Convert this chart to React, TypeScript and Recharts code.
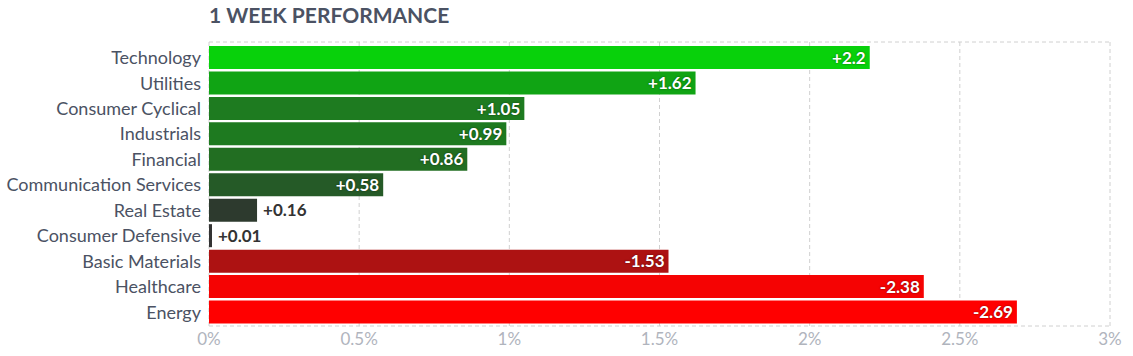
import React from "react";
import { BarChart, Bar, XAxis, YAxis, CartesianGrid, Cell, LabelList, Customized } from "recharts";

const sectors = [
  "Technology",
  "Utilities",
  "Consumer Cyclical",
  "Industrials",
  "Financial",
  "Communication Services",
  "Real Estate",
  "Consumer Defensive",
  "Basic Materials",
  "Healthcare",
  "Energy",
];
const changes = [2.2, 1.62, 1.05, 0.99, 0.86, 0.58, 0.16, 0.01, -1.53, -2.38, -2.69];
const colors = [
  "#08d10b",
  "#10a414",
  "#1e7b20",
  "#1e7a20",
  "#226e22",
  "#255a27",
  "#2d3a2e",
  "#333333",
  "#ad1212",
  "#f50303",
  "#ff0000",
];
const xTicks = [0, 0.5, 1, 1.5, 2, 2.5, 3];

const data = sectors.map((name, i) => ({
  name,
  change: changes[i],
  abs: Math.abs(changes[i]),
}));

const FONT = "Lato, 'Noto Sans', sans-serif";

const fmt = (v: number) => (v > 0 ? `+${v}` : `${v}`);

const ValueLabel = (props: any) => {
  const { x, y, width, height, index } = props;
  const v = changes[index];
  const text = fmt(v);
  const cy = y + height / 2;
  if (width > 60) {
    return (
      <text
        x={x + width - 4}
        y={cy}
        dy="0.36em"
        textAnchor="end"
        fill="#ffffff"
        fontFamily={FONT}
        fontSize={17}
        fontWeight="bold"
        style={{ textShadow: "0 0 2px rgba(0,0,0,0.55)" }}
      >
        {text}
      </text>
    );
  }
  return (
    <text
      x={x + width + 6}
      y={cy}
      dy="0.36em"
      textAnchor="start"
      fill="#333333"
      fontFamily={FONT}
      fontSize={17}
      fontWeight="bold"
    >
      {text}
    </text>
  );
};

const Title = () => (
  <text x={209} y={23} fill="#4b5263" fontFamily={FONT} fontSize={21} fontWeight="bold">
    1 WEEK PERFORMANCE
  </text>
);

export default function App() {
  return (
    <div style={{ position: "absolute", left: 0, top: 0, width: 1133, height: 356, background: "#fff" }}>
      <BarChart
        width={1133}
        height={356}
        data={data}
        layout="vertical"
        margin={{ top: 42, right: 23, bottom: 0, left: 0 }}
        barSize={23}
      >
        <CartesianGrid
          stroke="#d0d0d0"
          strokeDasharray="4 3"
          horizontalCoordinatesGenerator={({ offset }: any) => [offset.top, offset.top + offset.height]}
        />
        <XAxis
          type="number"
          domain={[0, 3]}
          ticks={xTicks}
          height={30}
          tickFormatter={(v: number) => `${v}%`}
          axisLine={false}
          tickLine={false}
          tickSize={0}
          tickMargin={7}
          tick={{ fill: "#b0b4bd", fontSize: 17, fontFamily: FONT }}
          interval={0}
        />
        <YAxis
          type="category"
          dataKey="name"
          width={209}
          axisLine={false}
          tickLine={false}
          tickSize={0}
          tickMargin={8}
          interval={0}
          padding={{ top: 3, bottom: 1 }}
          tick={{ fill: "#4b5263", fontSize: 18, fontFamily: FONT }}
        />
        <Bar dataKey="abs" isAnimationActive={false}>
          {data.map((d, i) => (
            <Cell key={d.name} fill={colors[i]} />
          ))}
          <LabelList dataKey="abs" content={ValueLabel} />
        </Bar>
        <Customized component={Title} />
      </BarChart>
    </div>
  );
}
